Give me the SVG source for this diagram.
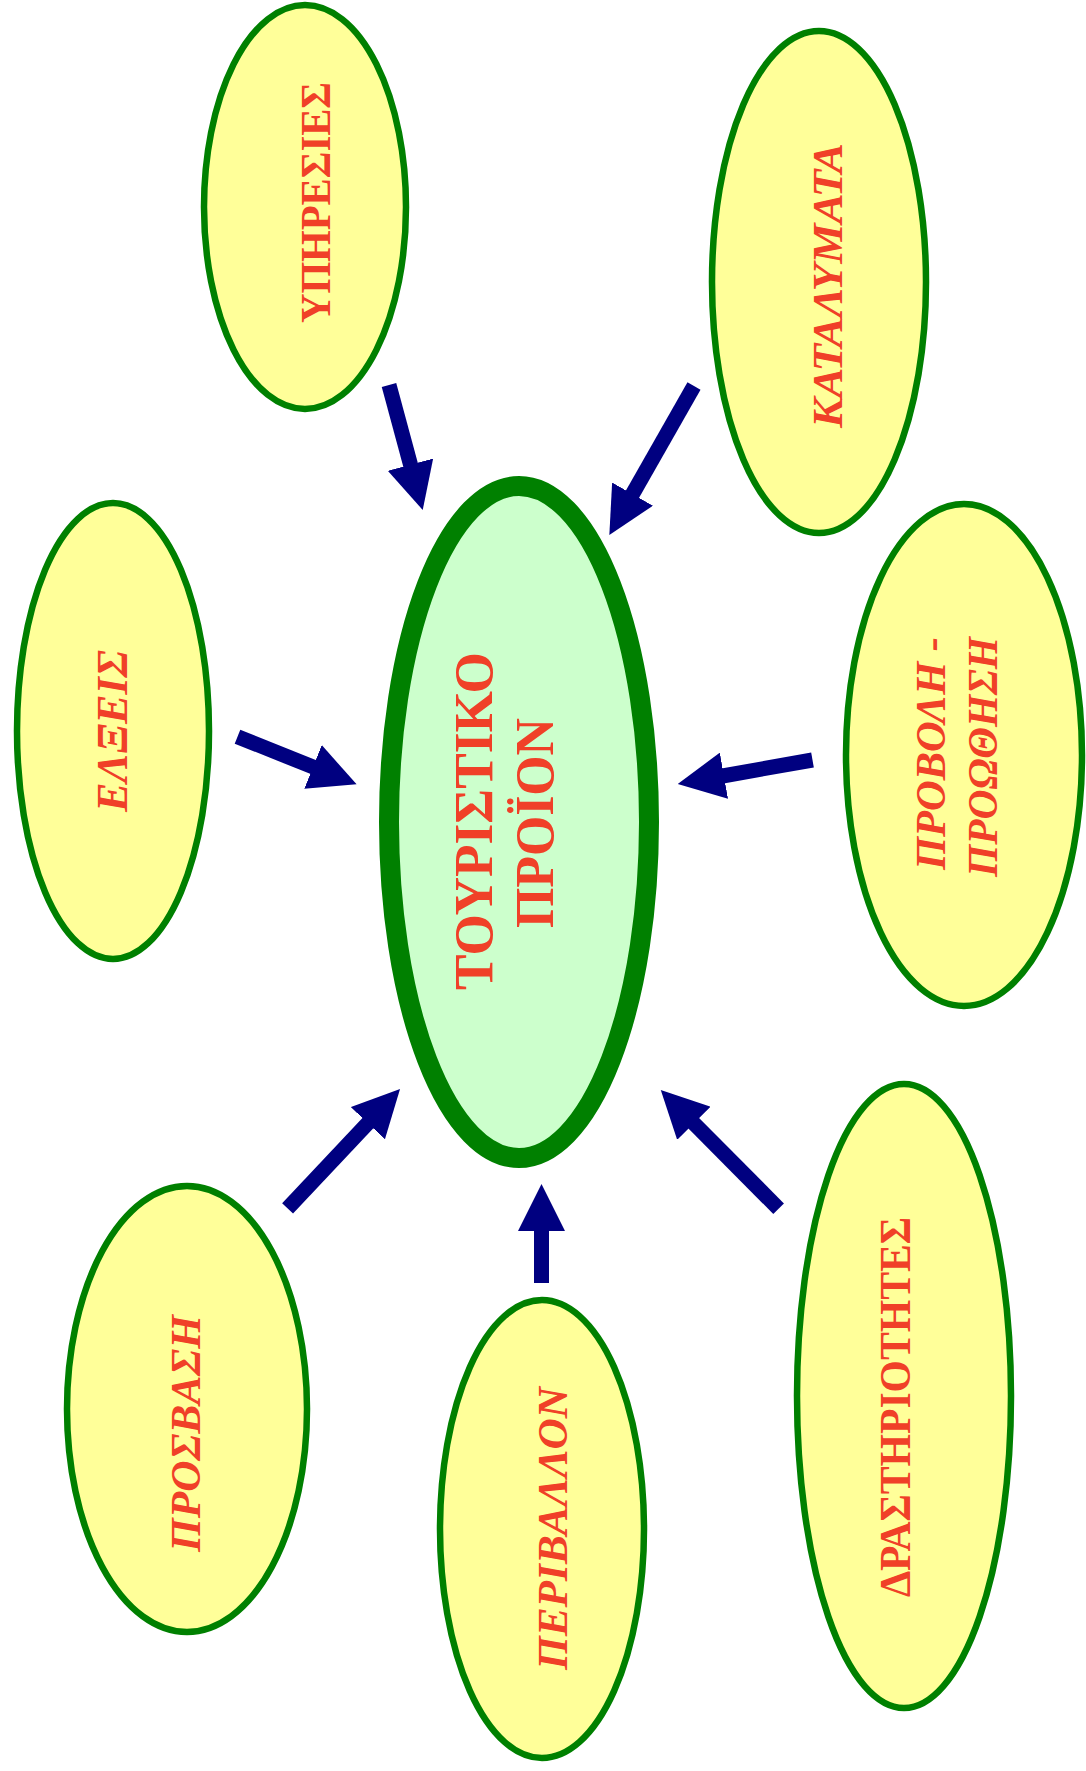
<svg xmlns="http://www.w3.org/2000/svg" width="1086" height="1771" viewBox="0 0 1086 1771">
<style>
.node{fill:#FFFF99;stroke:#008000;stroke-width:6.5}
.core{fill:#CCFFCC;stroke:#008000;stroke-width:20}
.t{font-family:"Liberation Serif","Times New Roman",serif;font-weight:bold;fill:#F04028;text-anchor:middle}
.i{font-style:italic}
.arr{stroke:#000080;stroke-width:15;fill:none;marker-end:url(#head)}
</style>
<defs>
<marker id="head" viewBox="0 0 3.13 3.13" markerUnits="strokeWidth" markerWidth="3.13" markerHeight="3.13" refX="0.667" refY="1.565" orient="auto">
<path d="M0,0 L3.13,1.565 L0,3.13 z" fill="#000080"/>
</marker>
</defs>
<rect width="1086" height="1771" fill="#FFFFFF"/>
<g id="connectors">
<line class="arr" x1="389" y1="385" x2="413.1" y2="474.3"/>
<line class="arr" x1="694" y1="386" x2="627.6" y2="502.8"/>
<line class="arr" x1="237.5" y1="736.7" x2="322.3" y2="770.6"/>
<line class="arr" x1="812.5" y1="760" x2="714.1" y2="777.5"/>
<line class="arr" x1="287.6" y1="1208.3" x2="374.7" y2="1115.9"/>
<line class="arr" x1="541.5" y1="1283" x2="541.5" y2="1221"/>
<line class="arr" x1="778.6" y1="1208.7" x2="686.8" y2="1116.2"/>
</g>
<g id="n-yperesies">
<ellipse class="node" cx="305" cy="207" rx="101" ry="202"/>
<text class="t" font-size="42" textLength="241" lengthAdjust="spacingAndGlyphs" transform="translate(330,202.5) rotate(-90)">ΥΠΗΡΕΣΙΕΣ</text>
</g>
<g id="n-katalymata">
<ellipse class="node" cx="819" cy="282" rx="107" ry="251"/>
<text class="t i" font-size="43" textLength="285" lengthAdjust="spacingAndGlyphs" transform="translate(842,285.5) rotate(-90)">ΚΑΤΑΛΥΜΑΤΑ</text>
</g>
<g id="n-elxeis">
<ellipse class="node" cx="113" cy="731" rx="96" ry="228"/>
<text class="t i" font-size="44" textLength="162" lengthAdjust="spacingAndGlyphs" transform="translate(127,731) rotate(-90)">ΕΛΞΕΙΣ</text>
</g>
<g id="n-touristiko">
<ellipse class="core" cx="519" cy="822" rx="130" ry="336"/>
<text class="t" font-size="54" textLength="338" lengthAdjust="spacingAndGlyphs" transform="translate(492,821) rotate(-90)">ΤΟΥΡΙΣΤΙΚΟ</text>
<text class="t" font-size="54" textLength="210" lengthAdjust="spacingAndGlyphs" transform="translate(553,823) rotate(-90)">ΠΡΟΪΟΝ</text>
</g>
<g id="n-provoli">
<ellipse class="node" cx="964" cy="755" rx="118" ry="251"/>
<text class="t i" font-size="42" textLength="233" lengthAdjust="spacingAndGlyphs" transform="translate(945,753.5) rotate(-90)">ΠΡΟΒΟΛΗ -</text>
<text class="t i" font-size="42" textLength="240" lengthAdjust="spacingAndGlyphs" transform="translate(997,757) rotate(-90)">ΠΡΟΩΘΗΣΗ</text>
</g>
<g id="n-prosvasi">
<ellipse class="node" cx="187" cy="1409" rx="120" ry="223"/>
<text class="t i" font-size="42" textLength="237" lengthAdjust="spacingAndGlyphs" transform="translate(200,1433.5) rotate(-90)">ΠΡΟΣΒΑΣΗ</text>
</g>
<g id="n-perivallon">
<ellipse class="node" cx="542" cy="1529" rx="102" ry="229"/>
<text class="t i" font-size="43" textLength="283" lengthAdjust="spacingAndGlyphs" transform="translate(567,1528.5) rotate(-90)">ΠΕΡΙΒΑΛΛΟΝ</text>
</g>
<g id="n-drastiriotites">
<ellipse class="node" cx="904" cy="1396" rx="107" ry="312"/>
<text class="t" font-size="44" textLength="380" lengthAdjust="spacingAndGlyphs" transform="translate(910,1407) rotate(-90)">ΔΡΑΣΤΗΡΙΟΤΗΤΕΣ</text>
</g>
</svg>
